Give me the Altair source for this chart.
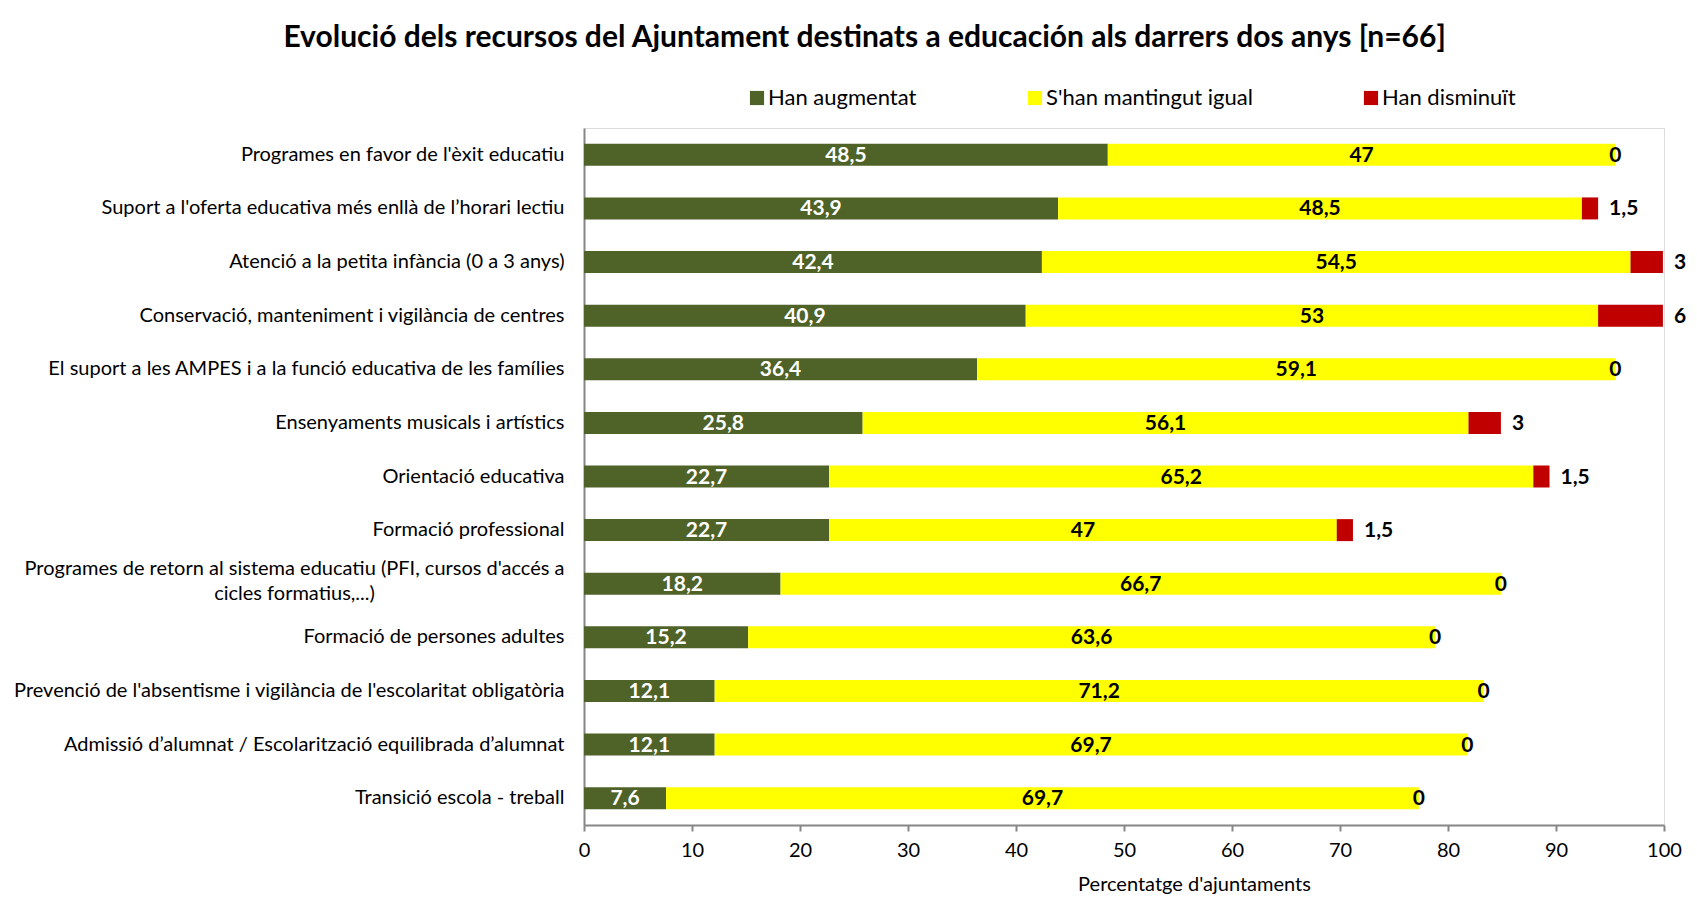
import altair as alt
import pandas as pd

categories = [
    "Programes en favor de l'èxit educatiu",
    "Suport a l'oferta educativa més enllà de l’horari lectiu",
    "Atenció a la petita infància (0 a 3 anys)",
    "Conservació, manteniment i vigilància de centres",
    "El suport a les AMPES i a la funció educativa de les famílies",
    "Ensenyaments musicals i artístics",
    "Orientació educativa",
    "Formació professional",
    "Programes de retorn al sistema educatiu (PFI, cursos d'accés a\ncicles formatius,...)",
    "Formació de persones adultes",
    "Prevenció de l'absentisme i vigilància de l'escolaritat obligatòria",
    "Admissió d’alumnat / Escolarització equilibrada d’alumnat",
    "Transició escola - treball",
]
han_augmentat = [48.5, 43.9, 42.4, 40.9, 36.4, 25.8, 22.7, 22.7, 18.2, 15.2, 12.1, 12.1, 7.6]
mantingut_igual = [47, 48.5, 54.5, 53, 59.1, 56.1, 65.2, 47, 66.7, 63.6, 71.2, 69.7, 69.7]
han_disminuit = [0, 1.5, 3, 6, 0, 3, 1.5, 1.5, 0, 0, 0, 0, 0]

series = ["Han augmentat", "S'han mantingut igual", "Han disminuït"]
colors = ["#4F6228", "#FFFF00", "#C00000"]

rows = []
for i, cat in enumerate(categories):
    start = 0.0
    for s, vals in zip(series, [han_augmentat, mantingut_igual, han_disminuit]):
        v = vals[i]
        rows.append({
            "cat": cat,
            "serie": s,
            "value": v,
            "x0": start,
            "x1": start + v,
            "mid": start + v / 2,
            "label": f"{v:g}".replace(".", ","),
        })
        start += v
df = pd.DataFrame(rows)

FONT = "Lato"
multi = "indexof(datum.value, '\\n') >= 0"

y_enc = alt.Y(
    "cat:N",
    sort=categories,
    title=None,
    scale=alt.Scale(paddingInner=0.59, paddingOuter=0.295),
    axis=alt.Axis(
        labelExpr="split(datum.label, '\\n')",
        labelFontSize=20,
        labelFont=FONT,
        labelColor="#000000",
        labelAlign=alt.condition(multi, alt.value("center"), alt.value("right")),
        labelPadding=alt.condition(multi, alt.value(290), alt.value(20)),
        labelLimit=700,
        labelLineHeight=25,
        labelOffset=alt.condition(multi, alt.value(-15), alt.value(0)),
        ticks=False,
        domainColor="#868686",
        domainWidth=2,
        grid=False,
    ),
)

bars = alt.Chart(df).mark_bar().encode(
    x=alt.X(
        "x0:Q",
        scale=alt.Scale(domain=[0, 100], nice=False),
        axis=alt.Axis(
            values=list(range(0, 101, 10)),
            title="Percentatge d'ajuntaments",
            titleFont=FONT,
            titleFontSize=20,
            titleFontWeight="normal",
            titleColor="#000000",
            titleX=610,
            titleY=59,
            titleBaseline="middle",
            labelFont=FONT,
            labelFontSize=20,
            labelColor="#000000",
            labelFlush=False,
            labelPadding=9,
            tickSize=6,
            tickColor="#868686",
            tickWidth=2,
            domainColor="#868686",
            domainWidth=2,
            grid=False,
        ),
    ),
    x2="x1:Q",
    y=y_enc,
    color=alt.Color(
        "serie:N",
        scale=alt.Scale(domain=series, range=colors),
        legend=alt.Legend(
            title=None,
            orient="none",
            legendX=162,
            legendY=-41,
            direction="horizontal",
            symbolType="square",
            symbolSize=200,
            symbolStrokeWidth=0,
            labelFont=FONT,
            labelFontSize=22,
            labelColor="#000000",
            labelOffset=0,
            columnPadding=107,
            padding=0,
            labelLimit=400,
        ),
    ),
)

txt_style = dict(font=FONT, fontSize=21, fontWeight="bold", baseline="middle", dy=1)

green_lbl = alt.Chart(df).transform_filter(
    alt.datum.serie == series[0]
).mark_text(color="#FFFFFF", **txt_style).encode(
    x="mid:Q", y=alt.Y("cat:N", sort=categories), text="label:N"
)
yellow_lbl = alt.Chart(df).transform_filter(
    alt.datum.serie == series[1]
).mark_text(color="#000000", **txt_style).encode(
    x="mid:Q", y=alt.Y("cat:N", sort=categories), text="label:N"
)
red_lbl = alt.Chart(df).transform_filter(
    (alt.datum.serie == series[2]) & (alt.datum.value > 0)
).mark_text(color="#000000", align="left", dx=11, **txt_style).encode(
    x="x1:Q", y=alt.Y("cat:N", sort=categories), text="label:N"
)
zero_lbl = alt.Chart(df).transform_filter(
    (alt.datum.serie == series[2]) & (alt.datum.value == 0)
).mark_text(color="#000000", align="center", **txt_style).encode(
    x="x1:Q", y=alt.Y("cat:N", sort=categories), text="label:N"
)

chart = alt.layer(bars, green_lbl, yellow_lbl, red_lbl, zero_lbl).properties(
    width=1080,
    height=697,
    autosize=alt.AutoSizeParams(type="none"),
    padding={"left": 576, "top": 120, "right": 25, "bottom": 70},
    title=alt.TitleParams(
        "Evolució dels recursos del Ajuntament destinats a educación als darrers dos anys [n=66]",
        font=FONT,
        fontSize=30,
        fontWeight="bold",
        color="#000000",
        anchor="middle",
        frame="bounds",
        offset=34,
        dx=15,
    ),
).configure_view(stroke=None).configure(background="#FFFFFF")

chart.save("out.html", embed_options={"renderer": "svg", "actions": False})
